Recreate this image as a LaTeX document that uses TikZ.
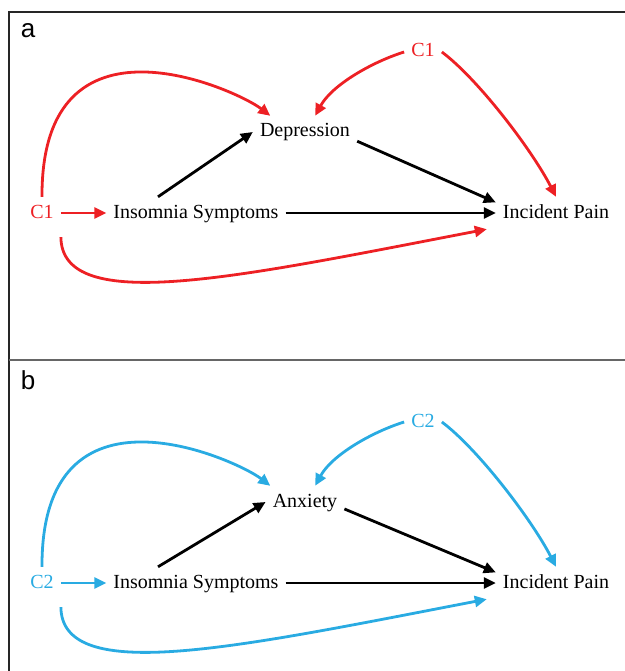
\documentclass[tikz,border=0pt]{standalone}
\usepackage{fontspec}
\setmainfont{Liberation Serif}
\newfontfamily\labfont{Liberation Sans}
\usetikzlibrary{arrows.meta}
\definecolor{cred}{HTML}{ED2024}
\definecolor{cblue}{HTML}{29ABE2}
\tikzset{
  var/.style={inner sep=7pt, text height=14pt, text depth=4pt, font=\fontsize{20}{24}\selectfont},
  arr/.style={line width=2.8pt, -{Triangle[length=12pt,width=11pt]}},
  panlab/.style={anchor=base, font=\labfont\fontsize{26}{30}\selectfont},
}

\begin{document}
\begin{tikzpicture}[x=1pt,y=-1pt]
\useasboundingbox (0,0) rectangle (624,671);
% frame and divider
\draw[line width=1.2pt, black!85] (9,690) -- (9,12) -- (640,12);
\draw[line width=1.2pt, black!60] (9,360) -- (640,360);
\foreach \p/\ly/\c/\m/\col/\dy in {a/38/C1/Depression/cred/0, b/389/C2/Anxiety/cblue/370} {
 \node[panlab] (lab\p) at (28,\ly) {\p};
 \begin{scope}[yshift=-\dy pt]
 \node[var, text=\col] (cl\p) at (42,213) {\c};
 \node[var] (ins\p) at (196,213) {Insomnia Symptoms};
 \node[var] (med\p) at (305,132) {\m};
 \node[var] (ip\p) at (556,213) {Incident Pain};
 \node[var, text=\col] (ct\p) at (423,52) {\c};
 % paths
 \draw[arr, \col] (cl\p) -- (ins\p);
 \draw[arr] (ins\p) -- (ip\p);
 \draw[arr] ([xshift=-38pt]ins\p.north) -- (med\p.west);
 \draw[arr] (med\p.-10) -- (ip\p.170);
 \draw[arr, \col] (cl\p.north) .. controls (41,0) and (237,90) .. (med\p.155);
 \draw[arr, \col] ([yshift=-8pt]cl\p.south east) .. controls (62,316) and (238,277) .. ([xshift=-9pt]ip\p.south west);
 \draw[arr, \col] (ct\p.west) .. controls (372,62) and (332,85) .. (med\p.58);
 \draw[arr, \col] (ct\p.east) .. controls (478,79) and (532,150) .. (ip\p.north);
 \end{scope}
}
\end{tikzpicture}
\end{document}
